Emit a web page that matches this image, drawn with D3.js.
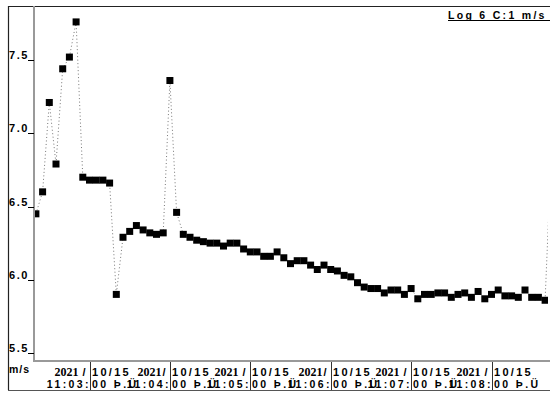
<!DOCTYPE html>
<html>
<head>
<meta charset="utf-8">
<script src="https://cdn.jsdelivr.net/npm/d3@7"></script>
<style>
  html, body { margin: 0; padding: 0; background: #fff; }
  svg { display: block; }
  .lbl { font-family: "Liberation Sans", Arial, sans-serif; font-weight: bold; fill: #000; }
  .yr { font-family: "Liberation Serif", "Times New Roman", serif; font-weight: bold; }
</style>
</head>
<body>
<svg id="chart" width="550" height="394"></svg>
<script>
// Logged wind speed, one sample every 5 seconds
const logTitle = "Log 6 C:1 m/s";
const unitLabel = "m/s";
const firstSample = new Date(2021, 9, 15, 23, 2, 20);
const sampleStepSec = 5;
const speeds = [
  6.45, 6.60, 7.21, 6.79, 7.44, 7.52, 7.76, 6.70, 6.68, 6.68, 6.68, 6.66,
  5.90, 6.29, 6.33, 6.37, 6.34, 6.32, 6.31, 6.32, 7.36, 6.46, 6.31, 6.29,
  6.27, 6.26, 6.25, 6.25, 6.23, 6.25, 6.25, 6.21, 6.19, 6.19, 6.16, 6.16,
  6.19, 6.15, 6.11, 6.13, 6.13, 6.10, 6.07, 6.10, 6.07, 6.06, 6.03, 6.02,
  5.98, 5.95, 5.94, 5.94, 5.91, 5.93, 5.93, 5.90, 5.94, 5.87, 5.90, 5.90,
  5.91, 5.91, 5.88, 5.90, 5.91, 5.88, 5.92, 5.87, 5.90, 5.93, 5.89, 5.89,
  5.88, 5.93, 5.88, 5.88, 5.86, 6.95
];
const yTicks = [5.5, 6.0, 6.5, 7.0, 7.5];
const xTickTimes = [
  new Date(2021, 9, 15, 23, 3, 0), new Date(2021, 9, 15, 23, 4, 0),
  new Date(2021, 9, 15, 23, 5, 0), new Date(2021, 9, 15, 23, 6, 0),
  new Date(2021, 9, 15, 23, 7, 0), new Date(2021, 9, 15, 23, 8, 0)
];
// each tick label is split at the tick: left part / right part
const xTickYears = ["2021 /", "2021/", "2021 /", "2021/", "2021 /", "2021 /"];
const xTickDates = ["10/15", "10/15", "10/15", "10/15", "10/15", "10/15"];
const xTickClockL = ["11:03:", "11:04:", "11:05:", "11:06:", "11:07:", "11:08:"];
const xTickClockR = ["00 Þ.Ü", "00 Þ.Ü", "00 Þ.Ü", "00 Þ.Ü", "00 Þ.Ü", "00 Þ.Ü"];

const data = speeds.map((v, i) => ({
  t: new Date(firstSample.getTime() + i * sampleStepSec * 1000),
  v
}));

const svg = d3.select("#chart");
const frame = { left: 8, top: 6, right: 550, bottom: 390 };
const plot = { left: 34, top: 6, right: 548, bottom: 361 };

const x = d3.scaleTime()
  .domain([xTickTimes[0], xTickTimes[xTickTimes.length - 1]])
  .range([89.5, 491.5]);
const y = d3.scaleLinear().domain([5.5, 7.5]).range([353, 60]);

// outer frame
svg.append("line").attr("x1", frame.left).attr("x2", frame.right)
  .attr("y1", frame.top + 0.5).attr("y2", frame.top + 0.5)
  .attr("stroke", "#222").attr("stroke-width", 1.2);
svg.append("line").attr("x1", frame.left + 0.5).attr("x2", frame.left + 0.5)
  .attr("y1", frame.top).attr("y2", frame.bottom)
  .attr("stroke", "#222").attr("stroke-width", 1.2);
svg.append("line").attr("x1", frame.left).attr("x2", frame.right)
  .attr("y1", frame.bottom + 0.5).attr("y2", frame.bottom + 0.5)
  .attr("stroke", "#555").attr("stroke-width", 1.2);

// title, underlined
svg.append("text").attr("class", "lbl")
  .attr("x", 448).attr("y", 18.5)
  .attr("font-size", 10.5).attr("letter-spacing", 2.3)
  .text(logTitle);
svg.append("line").attr("x1", 448).attr("x2", 550)
  .attr("y1", 20.5).attr("y2", 20.5).attr("stroke", "#000").attr("stroke-width", 1);

// plot data, clipped to the plot area
svg.append("clipPath").attr("id", "plotclip").append("rect")
  .attr("x", plot.left + 1).attr("y", plot.top + 1)
  .attr("width", plot.right - plot.left - 1).attr("height", plot.bottom - plot.top - 2);
const g = svg.append("g").attr("clip-path", "url(#plotclip)");

g.append("path").datum(data)
  .attr("fill", "none").attr("stroke", "#777").attr("stroke-width", 1)
  .attr("stroke-dasharray", "1,2.5")
  .attr("d", d3.line().x(d => x(d.t)).y(d => y(d.v)));

const mk = 7;
g.selectAll("rect.pt").data(data).join("rect").attr("class", "pt")
  .attr("x", d => x(d.t) - mk / 2).attr("y", d => y(d.v) - mk / 2)
  .attr("width", mk).attr("height", mk).attr("fill", "#000");

// axes lines
svg.append("line").attr("x1", plot.left).attr("x2", plot.left)
  .attr("y1", plot.top).attr("y2", plot.bottom + 1)
  .attr("stroke", "#999").attr("stroke-width", 2);
svg.append("line").attr("x1", plot.left).attr("x2", frame.right)
  .attr("y1", plot.bottom).attr("y2", plot.bottom)
  .attr("stroke", "#999").attr("stroke-width", 2);

// y ticks and labels
const yt = svg.append("g");
yTicks.forEach(v => {
  const yy = Math.round(y(v)) + 0.5;
  yt.append("line").attr("x1", 28).attr("x2", 34).attr("y1", yy).attr("y2", yy)
    .attr("stroke", "#000").attr("stroke-width", 1);
  yt.append("text").attr("class", "lbl").attr("x", 9).attr("y", yy - 1.5)
    .attr("font-size", 11).attr("letter-spacing", 1.6)
    .text(d3.format(".1f")(v));
});
svg.append("text").attr("class", "lbl").attr("x", 9).attr("y", 372.5)
  .attr("font-size", 10.5).attr("letter-spacing", 1).text(unitLabel);

// x ticks: separators and two-line labels split at each tick
xTickTimes.forEach((t, i) => {
  const xx = Math.round(x(t)) + 0.5;
  svg.append("line").attr("x1", xx).attr("x2", xx)
    .attr("y1", plot.bottom + 1).attr("y2", frame.bottom)
    .attr("stroke", "#333").attr("stroke-width", 1);
  const yrParts = xTickYears[i].split("2021");
  const left1 = svg.append("text").attr("class", "lbl").attr("y", 376)
    .attr("font-size", 11).attr("text-anchor", "end").attr("x", xx - 5);
  left1.append("tspan").attr("class", "yr").attr("font-size", 12).text("2021");
  left1.append("tspan").attr("dx", yrParts[1].startsWith(" ") ? 4 : 1).text("/");
  svg.append("text").attr("class", "lbl").attr("y", 376)
    .attr("font-size", 11).attr("letter-spacing", 2.3).attr("x", xx + 1.5)
    .text(xTickDates[i]);
  svg.append("text").attr("class", "lbl").attr("y", 387.5)
    .attr("font-size", 10.5).attr("letter-spacing", 2.4)
    .attr("text-anchor", "end").attr("x", xx + 0.5)
    .text(xTickClockL[i]);
  svg.append("text").attr("class", "lbl").attr("y", 387.5)
    .attr("font-size", 10.5).attr("letter-spacing", 2.4).attr("x", xx + 1.5)
    .text(xTickClockR[i]);
});
</script>
</body>
</html>
